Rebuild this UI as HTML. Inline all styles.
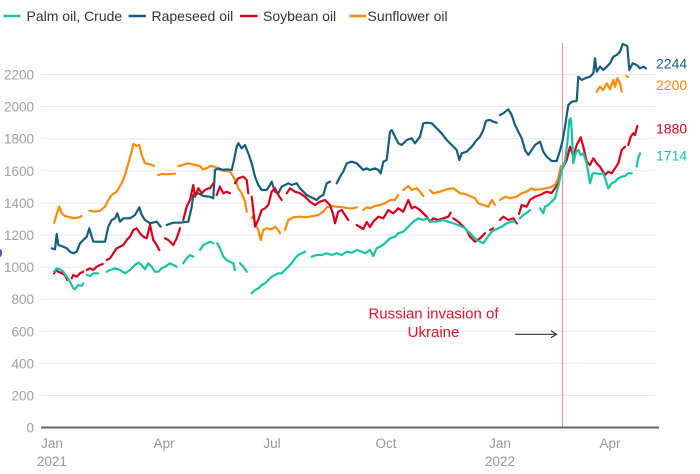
<!DOCTYPE html>
<html><head><meta charset="utf-8"><style>
html,body{margin:0;padding:0;background:#fff;}
svg{display:block;font-family:"Liberation Sans",Arial,sans-serif;}
</style></head><body>
<svg width="700" height="474" viewBox="0 0 700 474" xmlns="http://www.w3.org/2000/svg">
<g stroke="#e6e6e6" stroke-width="1">
<line x1="41" x2="655" y1="74.5" y2="74.5"/>
<line x1="41" x2="655" y1="106.6" y2="106.6"/>
<line x1="41" x2="655" y1="138.7" y2="138.7"/>
<line x1="41" x2="655" y1="170.8" y2="170.8"/>
<line x1="41" x2="655" y1="202.9" y2="202.9"/>
<line x1="41" x2="655" y1="235" y2="235"/>
<line x1="41" x2="655" y1="267.1" y2="267.1"/>
<line x1="41" x2="655" y1="299.2" y2="299.2"/>
<line x1="41" x2="655" y1="331.3" y2="331.3"/>
<line x1="41" x2="655" y1="363.4" y2="363.4"/>
<line x1="41" x2="655" y1="395.5" y2="395.5"/>
</g>
<g fill="#a0a0a0" font-size="13.5" text-anchor="end">
<text x="34" y="79.5">2200</text>
<text x="34" y="111.6">2000</text>
<text x="34" y="143.7">1800</text>
<text x="34" y="175.8">1600</text>
<text x="34" y="207.9">1400</text>
<text x="34" y="240">1200</text>
<text x="34" y="272.1">1000</text>
<text x="34" y="304.2">800</text>
<text x="34" y="336.3">600</text>
<text x="34" y="368.4">400</text>
<text x="34" y="400.5">200</text>
<text x="34" y="432.5">0</text>
</g>
<ellipse cx="0" cy="253" rx="2" ry="4" fill="#3a5bc7"/>
<g fill="#999" font-size="13.5" text-anchor="middle">
<text x="52" y="448">Jan</text>
<text x="52" y="466">2021</text>
<text x="164" y="448">Apr</text>
<text x="272" y="448">Jul</text>
<text x="386" y="448">Oct</text>
<text x="500" y="448">Jan</text>
<text x="500" y="466">2022</text>
<text x="610" y="448">Apr</text>
</g>
<line x1="562.5" x2="562.5" y1="43" y2="427" stroke="#f08f98" stroke-width="1"/>
<g fill="none" stroke-width="2.2" stroke-linejoin="round" stroke-linecap="round">
<g stroke="#ff8a0d">
<polyline points="54,222.7 59.3,206.5 61.7,213.3 65,216 70,217.3 73.3,218.3 79.3,217.3 81.7,216"/>
<polyline points="89.3,210.7 95,211.7 100,210.7 105,206.7 108.3,200 111.7,195 116.7,191.7 121.7,183.3 125,175 128.3,163.3 131.7,151.7 133.3,144 136.7,146 139.3,145 141.7,155 145,163.3 150,164.3 154,166"/>
<polyline points="158.3,175 161.7,174 166.7,174.3 175,173.7"/>
<polyline points="178.3,166 183,165 188.3,163.3 195,165 200,166 202.7,169.3 206.7,168.3 210,166 215,166.7 220,170 230,171.7 233.3,176.7 236.7,183.3 238.3,188.3 241.7,193.3 245,201.7 246.7,211.7"/>
<polyline points="251.7,218.3 254,215 255,223.3 258.3,230 260.7,240 263.3,230 266.7,228.3 271.7,229.3 275,226.7 278.3,230 280,233.3"/>
<polyline points="285,230 288.3,220 293.3,217.3 300,216.7 306.7,217.3 313.3,216 318.3,215 323.3,211.7 326.7,207.3 331.7,206 336.7,206.7 343.3,207.3 348.3,208.3 353.3,208.3 356.7,207.3"/>
<polyline points="363.3,210 366.7,207.3 370,208.3 375,206 380,205 385,203.3 390,200 395,200 398.3,195"/>
<polyline points="403.3,190 408.3,186 411.7,190 416.7,188.3 420,191.7 423.3,196"/>
<polyline points="430,190 433.3,193.3 440,191.7 446.7,189.3 453.3,188.3 456.7,190.7 460,193.3 465,194 470,196 475,198.3 478.3,203.3 483.3,205 488.3,206.7 491.7,200 495,205"/>
<polyline points="500,200 505,196.7 510,198.3 516.7,196.7 521.7,193.3 526.7,191.7 531.7,188.3 535,190 540,189.3 546.7,188.3 551.7,186.7 555,185 558.3,178.3 560,170 561,166"/>
<polyline points="596.7,91.7 600,86.7 603.3,90 606.7,83.3 610,89.3 613.3,80 615,86.7 617.3,78.3 620,83.3 621.7,91.7"/>
<polyline points="626.5,76 628,77"/>
</g>
<g stroke="#155e7c">
<polyline points="51.7,248.3 55,249.3 56.7,234 58.3,245 63.3,246.7 66.7,248.3 70,251.7 73.3,253.3 76.7,251.7 80,243.3 83.3,240 86.7,236.7 89.3,228.3 91.7,236.7 93.3,241.7 98.3,241.7 105,241.7 108.3,226.7 111.7,220 115,218.3 117.3,213.3 120,221.7 123.3,218.3 130,218.3 135,215 139.3,207.3 141.7,215 145,220 150,223.3 156.7,221.7 160.7,226.7"/>
<polyline points="166.7,225 173.3,222.7 180,222.7 188.3,221.7 191.7,206.7 193.3,195 198.3,193.3 203.3,196 210,196.7 213.3,198.3 215,170 218.3,168.3 223.3,170 226.7,169.3 231.7,170 233.3,163.3 236.7,146.7 238.3,143.3 241.7,148.3 245,145 248.3,153.3 251.7,163.3 255,176.7 258.3,185 261.7,190 266.7,190 270,185 271.7,181.7 275,191.7 278.3,193.3 281.7,186.7 285,185 288.3,183.3 291.7,185 296.7,183.3 300,188.3 303.3,191.7 306.7,195 310,196.7 313.3,198.3 316.7,200 320,196.7 323.3,195 326.7,183.3 330,181.7"/>
<polyline points="336.7,183.3 340,176.7 343.3,171.7 346.7,163.3 351.7,161.7 356.7,163.3 360,166.7 363.3,170 366.7,168.3 370,170 375,168.3 378.3,170 380.7,173.3 383.3,161.7 386.7,160 390,131.7 391.7,130 395,136.7 398.3,143.3 401.7,145 406.7,140 411.7,138.3 415,143.3 420,136.7 423.3,123.3 426.7,122.7 431.7,123.3 436.7,128.3 441.7,133.3 446.7,140 451.7,145 456.7,150 459.3,160 461.7,153.3 466.7,151.7 471.7,146.7 476.7,140 480,136.7 483.3,130 486,120.7 490,120 493.3,121.7 496.7,122.7"/>
<polyline points="500,115 503.3,113.3 508.3,109.3 511.7,115 515,125 518.3,131.7 521.7,138.3 525,150 528.3,155 531.7,150 535,145 540,141.7 543.3,151.7 546.7,156.7 551.7,161 556.7,161 560.7,148.3 562.7,140 565,126.7 568.3,105 571.7,101.7 576.7,101 578.3,76.7 581.7,80 585,78.3 590,76.7 593.3,73.3 595,58.3 596.7,71.7 600,66.7 603.3,70 606.7,66.7 610,63.3 613.3,56.7 616.7,55 620,51.7 622.7,44 627.3,46 629.3,70 632.7,63.3 636.7,65 640,68.3 643.3,66.7 646,68.3"/>
</g>
<g stroke="#d9001e">
<polyline points="54,273.3 56,270 58.3,271.7 61.7,273.3 65,275 67.3,280"/>
<polyline points="71.7,278.3 73.3,275 76.7,276.7 80,273.3 83.3,271.7"/>
<polyline points="86.7,270 90,268.3 93.3,270 96.7,266.7 100,265 102.7,264"/>
<polyline points="106.7,260 110,258.3 113.3,253.3 116.7,248.3 120,246.7 123.3,245 126.7,240 130,236.7 133.3,230 136.7,228.3 140,233.3 143.3,236.7 146.7,238.3 150,225 153.3,240 156.7,245 159.3,250"/>
<polyline points="165,238.3 168.3,240 173.3,245 176.7,238.3 180,228.3"/>
<polyline points="183.3,220 186.7,206.7 190,200 193.3,185 195,196.7 198.3,188.3 201.7,193.3 205,190 208.3,188.3 210,188.3 213.3,183.3"/>
<polyline points="216.7,195 220,186.7 223.3,193.3 226.7,191.7 230,193.3"/>
<polyline points="235,183.3 238.3,178.3 243.3,176.7 246.7,180 248.3,193.3"/>
<polyline points="251.7,196.7 253.3,210 255,226.7 258.3,220 261.7,210 265,208.3 268.3,205 271.7,191.7 275,188.3 278.3,195 281.7,200"/>
<polyline points="286.7,193.3 290,188.3 295,191.7 300,193.3 305,196.7 310,201.7 315,205 320,201.7 325,200 330,205 333.3,215 335,223.3 338.3,211.7 341.7,210 345,215 348.3,220"/>
<polyline points="356.7,225 360,227 363.3,229 366.7,222 370,227 373.3,221.7 378.3,216.7 383.3,218.3 388.3,210 393.3,213.3 398.3,208.3 403.3,211.7 408.3,200 411.7,208.3 415,206.7 420,210 423.3,213.3 426.7,216.7 430,221.7 433.3,218.3 438.3,220 443.3,218.3 448.3,216.7 450.7,212.7"/>
<polyline points="453.3,218.3 458.3,221.7 461.7,225 466.7,230 470,236.7 475,241.7 480,238.3 485,233.3"/>
<polyline points="490,230 493.3,228.3"/>
<polyline points="500,220 503.3,216.7 508.3,220 513.3,218.3 516.7,223.3"/>
<polyline points="519,214 521.7,205 526.7,206.7 530,200 535,196.7 540,195 546.7,191.7 551.7,193 555,188.3 558.3,183.3 561.7,170 566.7,160 570,146.7 573.3,156.7 576.7,145 580.7,137.3 583.3,146.7 586.7,161.7 590,165 593.3,158.3 596.7,163.3 600,166.7 605,175 608.3,171.7 611.7,173.3 615,168.3 618.3,163.3 621.7,150 625,146.7"/>
<polyline points="628.3,145 630.7,136.7 633.3,133.3 635,135 637.3,126"/>
</g>
<g stroke="#17c4a4">
<polyline points="54,271.7 56.7,268.3 60,269.3 63.3,271.7 66.7,276.7 70,281.7 73.3,288.3 75,289.3 78.3,285 81.7,286 83.3,283.3"/>
<polyline points="86.7,275 90,276 93.3,273.3 98.3,273.3"/>
<polyline points="106.7,271.7 110,270 115,268.3 120,270 125,273.3 130,270 135,265 138.3,262.7 141.7,265 145,269.3 148.3,263.3 151.7,266.7 155,271.7 158.3,271.7 161.7,268.3 165,266.7 170,263.3 173.3,265 176.7,266.7"/>
<polyline points="183.3,263.3 186.7,258.3 190,255 193.3,256.7"/>
<polyline points="200,250 203.3,245 206.7,243.3 210,241.7 213.3,243.3"/>
<polyline points="217.3,243.3 220,248.3 223.3,256.7 226.7,260 230,261.7 233.3,263.3 235,270"/>
<polyline points="240,263.3 243.3,266.7 246.7,271.7"/>
<polyline points="251.7,293.3 255,290 258.3,288.3 261.7,285 265,283.3 268.3,280 271.7,276.7 275,275 278.3,273.3 281.7,273.3 285,270 288.3,266.7 291.7,263.3 295,258.3 298.3,255 301.7,253.3 305,251.7"/>
<polyline points="311.7,256.7 316.7,255 321.7,255 326.7,253.3 331.7,255 336.7,253.3 341.7,255 346.7,251.7 351.7,252.7 356.7,250 361.7,251.7 365,253.3 370,250 373.3,256 376.7,248.3 380,246.7 385,243.3 390,238.3 395,236.7 398.3,233.3 403.3,231.7 408.3,226.7 413.3,221.7 418.3,218.3 423.3,220 426.7,218.3 431.7,221.7 436.7,221.7 443.3,220 448.3,221.7 453.3,223.3 458.3,225 461.7,226.7 465,228.3 470,233.3 473.3,236.7 476.7,240 480,241.7 483.3,243.3 486.7,238.3 491.7,231.7 495,230 498.3,228.3 501.7,226.7 506.7,223.3 511.7,221.7 515,221.7"/>
<polyline points="520,218.3 523.3,215 528.3,211.7 530,210"/>
<polyline points="540,208.3 543.3,213.3 545,206.7 548.3,205 551.7,201.7 555,198.3 558.3,186 561.7,170 565,161.7 567.3,143.3 569.3,120 570.7,118.3 571.7,130 573.3,163.3 576,152 578.3,150 580.7,155 583.3,153.3 586.7,163.3 590,183.3 592.7,173.3 596,173.3 599.3,174 603.3,173.3 606.7,183.3 608.3,188.3 611.7,183.3 615,181.7 618.3,178.3 621.7,176.7 625,176 628.3,173.3 631.7,173.3"/>
<polyline points="636.7,166.7 637.7,160 640,153.3"/>
</g>
</g>
<line x1="41" x2="659" y1="427.5" y2="427.5" stroke="#666" stroke-width="2"/>
<g font-size="15" fill="#e4102c" text-anchor="middle">
<text x="433.5" y="318.5">Russian invasion of</text>
<text x="433.5" y="337">Ukraine</text>
</g>
<g stroke="#333" stroke-width="1.2" fill="none">
<line x1="515" x2="556" y1="334.3" y2="334.3"/>
<polyline points="551,330.8 556.5,334.3 551,337.8"/>
</g>
<g font-size="14">
<text x="656" y="68.3" fill="#155e7c">2244</text>
<text x="656" y="90" fill="#ff8a0d">2200</text>
<text x="656" y="133.3" fill="#d9001e">1880</text>
<text x="656" y="160.7" fill="#17c4a4">1714</text>
</g>
<g stroke-width="2.5">
<line x1="3.5" x2="20.5" y1="16" y2="16" stroke="#17c4a4"/>
<line x1="128.5" x2="146" y1="16" y2="16" stroke="#155e7c"/>
<line x1="240" x2="257.5" y1="16" y2="16" stroke="#d9001e"/>
<line x1="349.5" x2="366" y1="16" y2="16" stroke="#ff8a0d"/>
</g>
<g font-size="14" fill="#333">
<text x="26.5" y="21">Palm oil, Crude</text>
<text x="151.5" y="21">Rapeseed oil</text>
<text x="263" y="21">Soybean oil</text>
<text x="367.5" y="21">Sunflower oil</text>
</g>
</svg>
</body></html>
